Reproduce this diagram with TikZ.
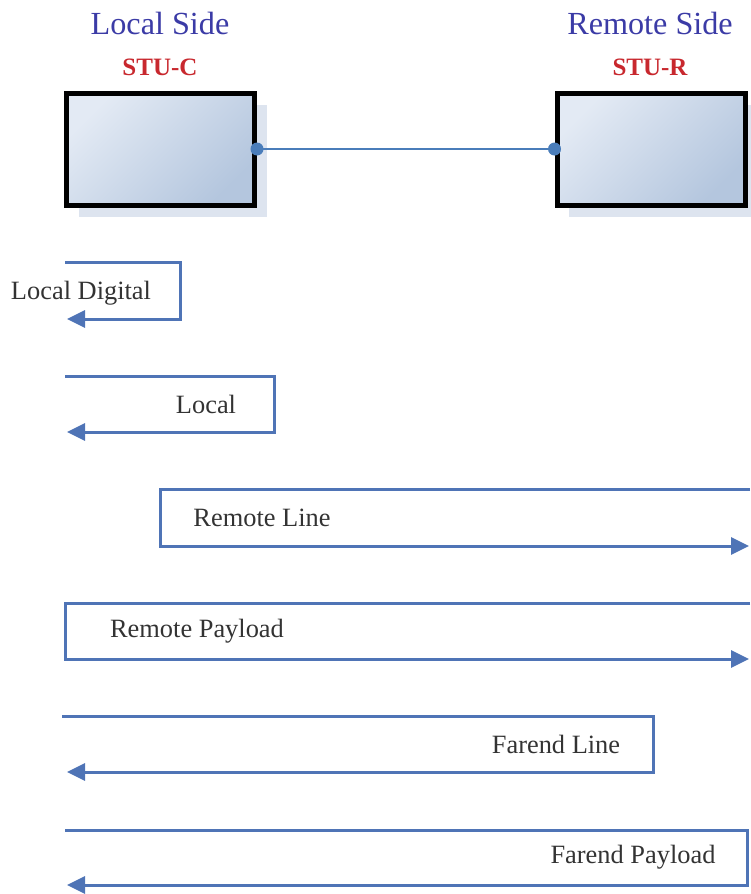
\documentclass[tikz,border=0pt]{standalone}
\usepackage{fontspec}
\setmainfont{Liberation Serif}
\usetikzlibrary{arrows.meta,shadows}
\definecolor{flowblue}{HTML}{4F74B6}
\definecolor{connblue}{HTML}{4A7DBA}
\definecolor{titleblue}{HTML}{3B3BA6}
\definecolor{stured}{HTML}{C8282E}
\definecolor{boxlight}{HTML}{E3EAF4}
\definecolor{boxdark}{HTML}{B4C6DE}
\definecolor{shadowc}{HTML}{DDE4EF}
\definecolor{labelgrey}{HTML}{333333}
\tikzset{
  devbox/.style={draw=black, line width=2.5pt, minimum width=94pt, minimum height=56pt,
    top color=boxlight, bottom color=boxdark, shading angle=45,
    drop shadow={shadow xshift=6pt, shadow yshift=-6pt, fill=shadowc, opacity=1}},
  sidetitle/.style={text=titleblue, font=\fontsize{16.1pt}{18pt}\selectfont, inner sep=0pt},
  stulabel/.style={text=stured, font=\bfseries\fontsize{12.5pt}{14pt}\selectfont, inner sep=0pt},
  flowlabel/.style={text=labelgrey, font=\fontsize{13.2pt}{15pt}\selectfont, inner sep=0pt},
  flow/.style={draw=flowblue, line width=1.5pt, line join=miter,
    -{Triangle[length=9pt,width=8.5pt]}},
  conn/.style={draw=connblue, line width=1.3pt},
  dot/.style={circle, fill=connblue, inner sep=0pt, minimum size=6.5pt}
}
\begin{document}
\begin{tikzpicture}[x=0.5pt,y=-0.5pt]
\useasboundingbox (0,0) rectangle (750,894);
% titles
\node[sidetitle] (lt) at (160,23) {Local Side};
\node[stulabel] (lc) at (160,67) {STU-C};
\node[sidetitle] (rt) at (650,23) {Remote Side};
\node[stulabel] (rc) at (650,67) {STU-R};
% devices
\node[devbox] (L) at (160.5,149) {};
\node[devbox] (R) at (651,149) {};
\draw[conn] (L.east) -- (R.west);
\node[dot] (ld) at (L.east) {};
\node[dot] (rd) at (R.west) {};
% flow 1: Local Digital
\coordinate (a1) at (65,262);
\coordinate (a2) at (180,262);
\coordinate (a3) at (180,319);
\coordinate (a4) at (67,319);
\draw[flow] (a1) -- (a2) -- (a3) -- (a4);
\node[flowlabel] (t1) at (81,293) {Local Digital};
% flow 2: Local
\coordinate (b1) at (65,376);
\coordinate (b2) at (274,376);
\coordinate (b3) at (274,432);
\coordinate (b4) at (67,432);
\draw[flow] (b1) -- (b2) -- (b3) -- (b4);
\node[flowlabel] (t2) at (206,404) {Local};
% flow 3: Remote Line
\coordinate (c1) at (750,489);
\coordinate (c2) at (160,489);
\coordinate (c3) at (160,546);
\coordinate (c4) at (749,546);
\draw[flow] (c1) -- (c2) -- (c3) -- (c4);
\node[flowlabel] (t3) at (262,518) {Remote Line};
% flow 4: Remote Payload
\coordinate (d1) at (750,603);
\coordinate (d2) at (65,603);
\coordinate (d3) at (65,659);
\coordinate (d4) at (749,659);
\draw[flow] (d1) -- (d2) -- (d3) -- (d4);
\node[flowlabel] (t4) at (197,631) {Remote Payload};
% flow 5: Farend Line
\coordinate (e1) at (62,716);
\coordinate (e2) at (653,716);
\coordinate (e3) at (653,772);
\coordinate (e4) at (67,772);
\draw[flow] (e1) -- (e2) -- (e3) -- (e4);
\node[flowlabel] (t5) at (556,744) {Farend Line};
% flow 6: Farend Payload
\coordinate (f1) at (65,830);
\coordinate (f2) at (747,830);
\coordinate (f3) at (747,885);
\coordinate (f4) at (67,885);
\draw[flow] (f1) -- (f2) -- (f3) -- (f4);
\node[flowlabel] (t6) at (633,857) {Farend Payload};
\end{tikzpicture}
\end{document}
